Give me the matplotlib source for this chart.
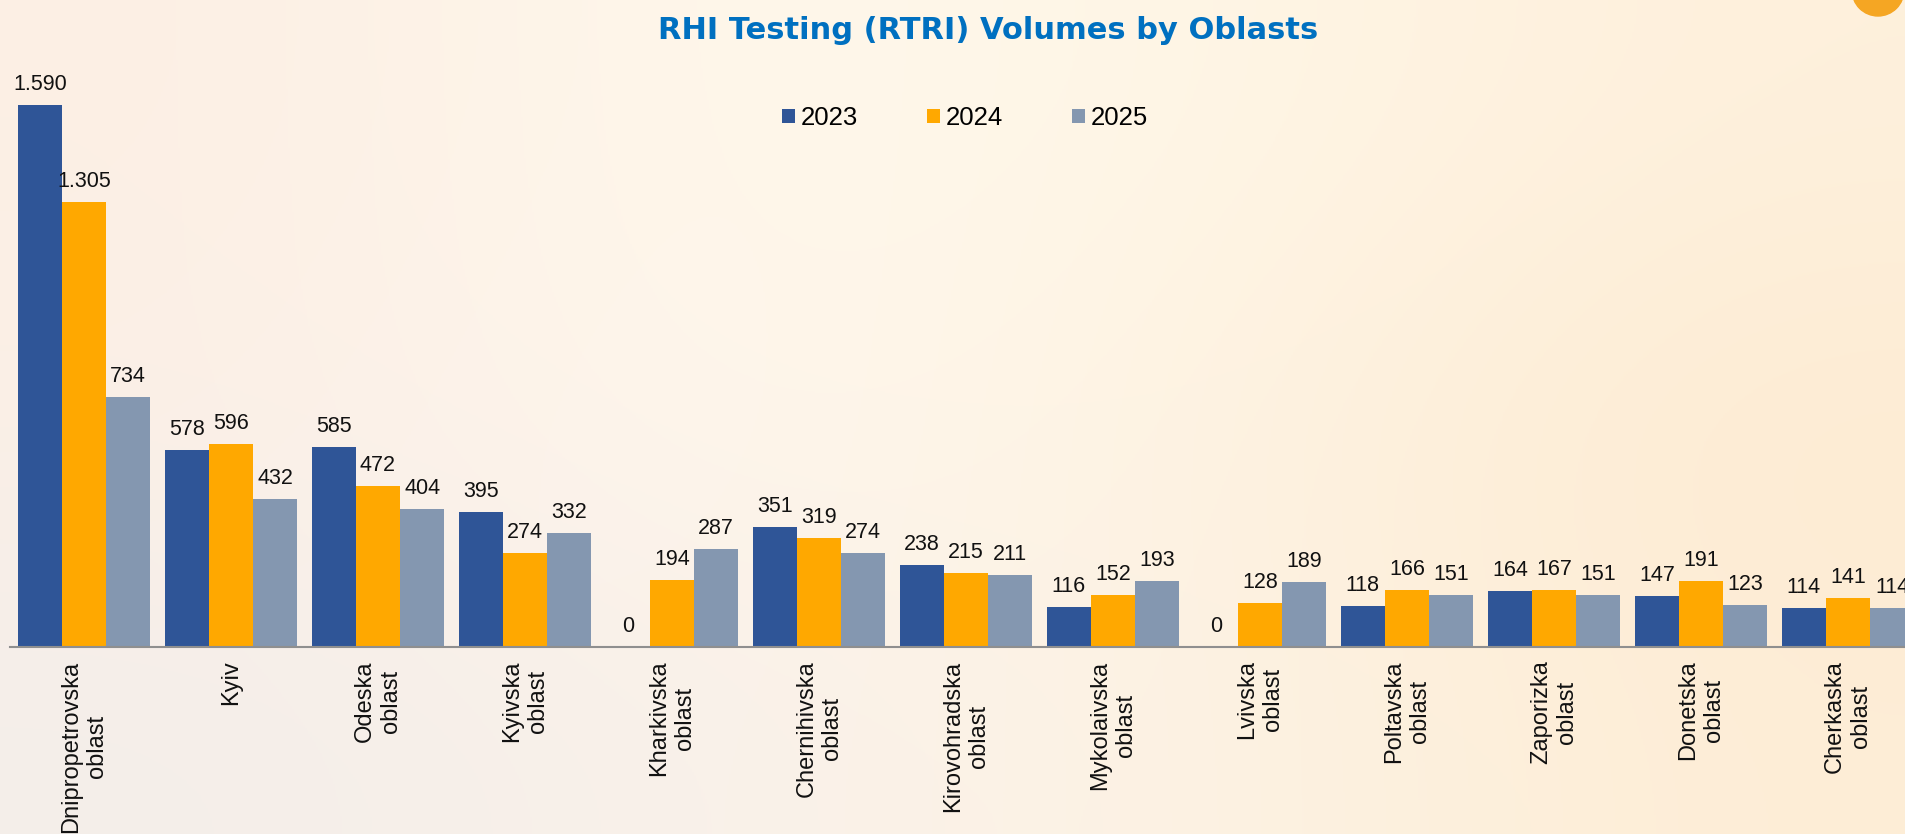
import numpy as np
import matplotlib
matplotlib.use("Agg")
import matplotlib.pyplot as plt
from matplotlib.patches import Ellipse

# data
categories = [
    "Dnipropetrovska\noblast", "Kyiv", "Odeska\noblast", "Kyivska\noblast",
    "Kharkivska\noblast", "Chernihivska\noblast", "Kirovohradska\noblast",
    "Mykolaivska\noblast", "Lvivska\noblast", "Poltavska\noblast",
    "Zaporizka\noblast", "Donetska\noblast", "Cherkaska\noblast",
]
years = ["2023", "2024", "2025"]
vol_2023 = [1590, 578, 585, 395, 0, 351, 238, 116, 0, 118, 164, 147, 114]
vol_2024 = [1305, 596, 472, 274, 194, 319, 215, 152, 128, 166, 167, 191, 141]
vol_2025 = [734, 432, 404, 332, 287, 274, 211, 193, 189, 151, 151, 123, 114]
colors = ["#2F5597", "#FFA800", "#8497B0"]

W, H = 1906, 834
fig = plt.figure(figsize=(W / 100, H / 100), dpi=100)

# soft cream background
bg = fig.add_axes([0, 0, 1, 1], zorder=-10)
grid = np.array([
    ["#FCEFE4", "#FFF8EC", "#FFF6E6", "#FEF0DC"],
    ["#FBEFE6", "#FFF7EE", "#FEF3E2", "#FDEBD2"],
    ["#F4EEEA", "#F9F1EA", "#FDF3E4", "#FDEDD6"],
])
rgb = np.array([[matplotlib.colors.to_rgb(c) for c in row] for row in grid])
bg.imshow(rgb, aspect="auto", interpolation="bicubic", extent=[0, 1, 0, 1])
bg.set_axis_off()

fig.patches.append(Ellipse((1878 / W, 844 / H), 52 / W, 52 / H,
                           transform=fig.transFigure, color="#F5A623"))

ax = fig.add_axes([10 / W, 187.5 / H, (W - 10) / W, (H - 187.5) / H])
ax.set_facecolor("none")

x = np.arange(len(categories))
width = 0.3
series = [vol_2023, vol_2024, vol_2025]
bars = []
for i, (vals, col) in enumerate(zip(series, colors)):
    b = ax.bar(x + (i - 1) * width, vals, width, color=col, label=years[i],
               linewidth=0)
    bars.append(b)
    for xi, v in zip(x + (i - 1) * width, vals):
        ax.annotate(f"{v:,}".replace(",", "."), (xi, v), xytext=(0, 10.8),
                    textcoords="offset points", ha="center", va="baseline",
                    fontsize=15.5, family=["Liberation Sans", "DejaVu Sans"],
                    color="#111111", annotation_clip=False)

ax.set_xlim(-0.5034, 12.395)
ax.set_ylim(0, 646.5 / 0.3405)
ax.set_yticks([])
ax.set_xticks(x)
ax.set_xticklabels(categories, rotation=90, ha="center", va="top",
                   multialignment="center", fontsize=17,
                   family=["Liberation Sans", "DejaVu Sans"], color="#111111")
ax.tick_params(axis="x", length=0, pad=10)
for s in ["top", "right", "left"]:
    ax.spines[s].set_visible(False)
ax.spines["bottom"].set_color("#8F8F8F")
ax.spines["bottom"].set_linewidth(1.5)

fig.text(988 / W, 795 / H, "RHI Testing (RTRI) Volumes by Oblasts",
         ha="center", va="baseline", fontsize=22, fontweight="bold",
         color="#0070C0", family=["DejaVu Sans"])

fig.legend(handles=bars, labels=years, loc="center left",
           bbox_to_anchor=(782 / W, 1 - 118 / H), bbox_transform=fig.transFigure,
           ncol=3, frameon=False, borderpad=0, borderaxespad=0,
           handlelength=0.506, handleheight=0.506, handletextpad=0.23,
           columnspacing=2.68,
           prop={"family": ["Liberation Sans", "DejaVu Sans"], "size": 18.5})

fig.savefig("out.png", dpi=100)
